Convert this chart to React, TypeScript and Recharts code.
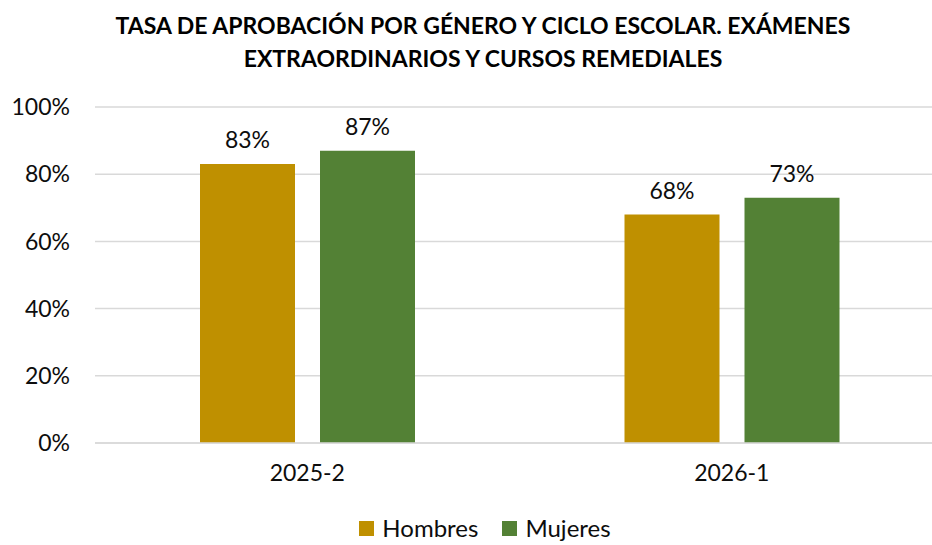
import React from 'react';
import { BarChart, Bar, XAxis, YAxis, CartesianGrid, Legend, LabelList } from 'recharts';

const ciclos = ['2025-2', '2026-1'];
const hombres = [83, 68];
const mujeres = [87, 73];
const yTicks = [0, 20, 40, 60, 80, 100];

const data = ciclos.map((ciclo, i) => ({ ciclo, hombres: hombres[i], mujeres: mujeres[i] }));

const FONT = 'Lato, "Open Sans", sans-serif';
const GOLD = '#BF9000';
const GREEN = '#538135';

function LegendContent() {
  const items = [
    { name: 'Hombres', color: GOLD },
    { name: 'Mujeres', color: GREEN },
  ];
  return (
    <div style={{ display: 'flex', justifyContent: 'center', paddingLeft: 50, paddingTop: 9, fontFamily: FONT, fontSize: 24, lineHeight: '28px', color: '#0d0d0d' }}>
      {items.map((it) => (
        <div key={it.name} style={{ display: 'flex', alignItems: 'center', marginRight: 24 }}>
          <span style={{ width: 15, height: 15, background: it.color, display: 'inline-block', marginRight: 8 }} />
          <span>{it.name}</span>
        </div>
      ))}
    </div>
  );
}

export default function App() {
  return (
    <div style={{ position: 'absolute', left: 0, top: 0, width: 932, height: 545, overflow: 'hidden', background: '#fff' }}>
      <div
        style={{
          position: 'absolute',
          left: 17,
          top: 9,
          width: 932,
          textAlign: 'center',
          fontFamily: FONT,
          fontWeight: 'bold',
          fontSize: 23,
          lineHeight: '33px',
          color: '#000',
        }}
      >
        TASA DE APROBACIÓN POR GÉNERO Y CICLO ESCOLAR. EXÁMENES
        <br />
        EXTRAORDINARIOS Y CURSOS REMEDIALES
      </div>
      <BarChart
        width={944}
        height={545}
        data={data}
        margin={{ top: 107, right: 0, left: 0, bottom: 0 }}
        barSize={95}
        barGap={25}
      >
        <CartesianGrid vertical={false} stroke="#d9d9d9" strokeWidth={1.5} />
        <XAxis
          dataKey="ciclo"
          height={62}
          tickLine={false}
          axisLine={{ stroke: '#d9d9d9', strokeWidth: 1.5 }}
          tick={{ fontFamily: FONT, fontSize: 23, fill: '#0d0d0d' }}
          tickMargin={16}
        />
        <YAxis
          width={95}
          domain={[0, 100]}
          ticks={yTicks}
          tickFormatter={(v) => `${v}%`}
          axisLine={false}
          tickLine={false}
          tickMargin={19}
          tick={{ fontFamily: FONT, fontSize: 23, fill: '#0d0d0d' }}
        />
        <Legend verticalAlign="bottom" height={40} content={<LegendContent />} />
        <Bar dataKey="hombres" name="Hombres" fill={GOLD} isAnimationActive={false}>
          <LabelList
            dataKey="hombres"
            position="top"
            offset={16}
            formatter={(v) => `${v}%`}
            style={{ fontFamily: FONT, fontSize: 23, fill: '#0d0d0d' }}
          />
        </Bar>
        <Bar dataKey="mujeres" name="Mujeres" fill={GREEN} isAnimationActive={false}>
          <LabelList
            dataKey="mujeres"
            position="top"
            offset={16}
            formatter={(v) => `${v}%`}
            style={{ fontFamily: FONT, fontSize: 23, fill: '#0d0d0d' }}
          />
        </Bar>
      </BarChart>
    </div>
  );
}
